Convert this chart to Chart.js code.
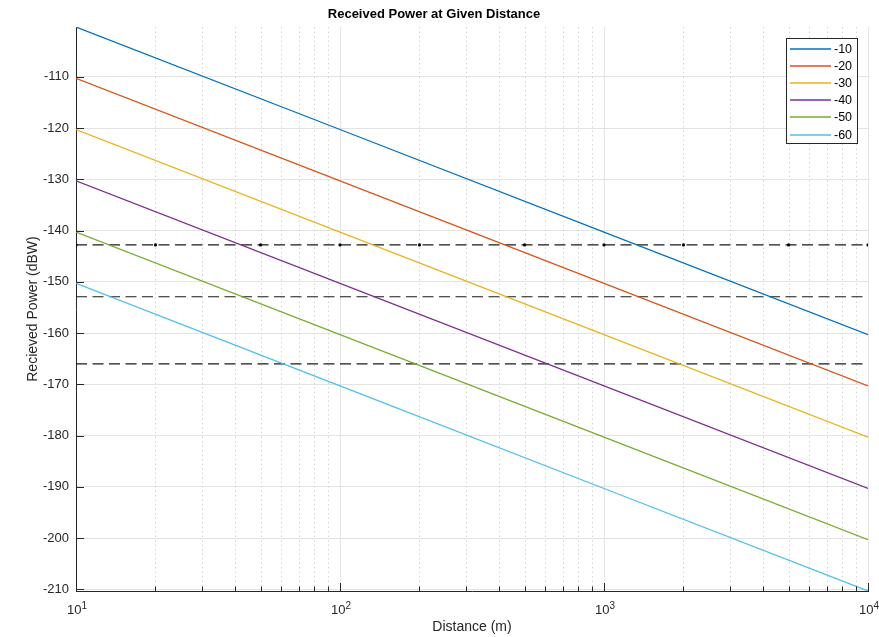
<!DOCTYPE html>
<html>
<head>
<meta charset="utf-8">
<script src="https://cdn.jsdelivr.net/npm/chart.js@4"></script>
<style>
  html, body { margin: 0; padding: 0; background: #fff; }
  canvas { display: block; }
</style>
</head>
<body>
<canvas id="powerChart" width="879" height="637"></canvas>
<script>
  // distances (m) where values were read
  const distances = [10, 100, 1000, 10000];
  // received power (dBW) for each transmit power label
  const seriesLabels = ['-10', '-20', '-30', '-40', '-50', '-60'];
  const p10 = [-100.3, -120.3, -140.3, -160.3];
  const p20 = [-110.3, -130.3, -150.3, -170.3];
  const p30 = [-120.3, -140.3, -160.3, -180.3];
  const p40 = [-130.3, -150.3, -170.3, -190.3];
  const p50 = [-140.3, -160.3, -180.3, -200.3];
  const p60 = [-150.3, -170.3, -190.3, -210.3];
  // threshold levels (dashed)
  const markDist = [10, 20, 50, 100, 200, 500, 1000, 2000, 5000, 10000];
  const thresh1 = [-142.8, -142.8, -142.8, -142.8, -142.8, -142.8, -142.8, -142.8, -142.8, -142.8];
  const thresh2 = [-152.9, -152.9];
  const thresh3 = [-166, -166];
  const threshDist = [10, 10000];
  // ticks
  const yTicks = [-210, -200, -190, -180, -170, -160, -150, -140, -130, -120, -110];
  const xTicks = [10, 20, 30, 40, 50, 60, 70, 80, 90, 100, 200, 300, 400, 500, 600, 700, 800, 900,
                  1000, 2000, 3000, 4000, 5000, 6000, 7000, 8000, 9000, 10000];
  const xMajor = [10, 100, 1000, 10000];
  const xMajorExp = ['1', '2', '3', '4'];

  const colors = ['#0072BD', '#D95319', '#EDB120', '#7E2F8E', '#77AC30', '#4DBEEE'];
  const allSeries = [p10, p20, p30, p40, p50, p60];

  const pts = (xs, ys) => xs.map((x, i) => ({ x: x, y: ys[i] }));

  const datasets = allSeries.map((s, i) => ({
    label: seriesLabels[i],
    data: pts(distances, s),
    borderColor: colors[i],
    backgroundColor: colors[i],
    borderWidth: 1.2,
    pointRadius: 0,
    fill: false,
    tension: 0
  }));
  const dashStyle = { borderColor: '#1a1a1a', backgroundColor: '#000', borderWidth: 1.1, borderDash: [11, 5.5], fill: false, tension: 0 };
  datasets.push(Object.assign({ label: 'thr1', data: pts(markDist, thresh1), pointRadius: 1.6, pointBorderWidth: 0 }, dashStyle));
  datasets.push(Object.assign({ label: 'thr2', data: pts(threshDist, thresh2), pointRadius: 0 }, dashStyle));
  datasets.push(Object.assign({ label: 'thr3', data: pts(threshDist, thresh3), pointRadius: 0 }, dashStyle));

  const font = '"Liberation Sans", Arial, sans-serif';

  // minor dotted grid, inward ticks, 10^n labels, boxed legend
  const extras = {
    id: 'extras',
    beforeDatasetsDraw(chart) {
      const { ctx, chartArea: a, scales: { x } } = chart;
      ctx.save();
      ctx.strokeStyle = '#d4d4d4';
      ctx.lineWidth = 1;
      ctx.setLineDash([1.5, 3]);
      xTicks.forEach(v => {
        if (xMajor.includes(v)) return;
        const px = Math.round(x.getPixelForValue(v)) + 0.5;
        ctx.beginPath();
        ctx.moveTo(px, a.top);
        ctx.lineTo(px, a.bottom);
        ctx.stroke();
      });
      ctx.restore();
    },
    afterDraw(chart) {
      const { ctx, chartArea: a, scales: { x, y } } = chart;
      ctx.save();
      ctx.strokeStyle = '#262626';
      ctx.lineWidth = 1;
      xTicks.forEach(v => {
        const px = Math.round(x.getPixelForValue(v)) + 0.5;
        const len = xMajor.includes(v) ? 8 : 4.5;
        ctx.beginPath();
        ctx.moveTo(px, a.bottom);
        ctx.lineTo(px, a.bottom - len);
        ctx.stroke();
      });
      yTicks.forEach(v => {
        const py = Math.round(y.getPixelForValue(v)) + 0.5;
        ctx.beginPath();
        ctx.moveTo(a.left, py);
        ctx.lineTo(a.left + 8, py);
        ctx.stroke();
      });

      // decade labels with raised exponent
      ctx.fillStyle = '#262626';
      ctx.textBaseline = 'alphabetic';
      ctx.textAlign = 'left';
      xMajor.forEach((v, i) => {
        const px = x.getPixelForValue(v);
        ctx.font = '13px ' + font;
        const wBase = ctx.measureText('10').width;
        ctx.font = '10px ' + font;
        const wExp = ctx.measureText(xMajorExp[i]).width;
        const x0 = px - (wBase + wExp) / 2 + 1;
        ctx.font = '13px ' + font;
        ctx.fillText('10', x0, a.bottom + 23);
        ctx.font = '10px ' + font;
        ctx.fillText(xMajorExp[i], x0 + wBase, a.bottom + 18);
      });

      // legend box
      const bx = 786.5, by = 38.5, bw = 71, bh = 105;
      ctx.fillStyle = '#fff';
      ctx.fillRect(bx, by, bw, bh);
      ctx.strokeStyle = '#262626';
      ctx.lineWidth = 1;
      ctx.strokeRect(bx, by, bw, bh);
      ctx.font = '12.5px ' + font;
      ctx.textBaseline = 'middle';
      ctx.textAlign = 'left';
      seriesLabels.forEach((lab, i) => {
        const ly = Math.round(49 + i * 17.1);
        ctx.strokeStyle = colors[i];
        ctx.lineWidth = 1.5;
        ctx.beginPath();
        ctx.moveTo(790, ly);
        ctx.lineTo(831, ly);
        ctx.stroke();
        ctx.fillStyle = '#000';
        ctx.fillText(lab, 834, ly + 1);
      });
      ctx.restore();
    }
  };

  new Chart(document.getElementById('powerChart'), {
    type: 'line',
    data: { datasets: datasets },
    options: {
      responsive: false,
      animation: false,
      maintainAspectRatio: false,
      devicePixelRatio: 1,
      layout: { padding: { left: 0, right: 11, top: 0, bottom: 0 } },
      plugins: {
        legend: { display: false },
        tooltip: { enabled: false },
        title: {
          display: true,
          text: 'Received Power at Given Distance',
          color: '#000',
          font: { family: font, size: 13, weight: 'bold' },
          padding: { top: 7, bottom: 4.4 }
        }
      },
      scales: {
        x: {
          type: 'logarithmic',
          min: 10,
          max: 10000,
          afterBuildTicks: s => { s.ticks = xTicks.map(v => ({ value: v })); },
          afterFit: s => { s.height = 46; s.paddingLeft = 0; s.paddingRight = 0; },
          ticks: {
            autoSkip: false,
            maxRotation: 0,
            padding: 10,
            font: { family: font, size: 13 },
            callback: () => ''
          },
          grid: {
            drawTicks: false,
            color: c => (xMajor.includes(c.tick && c.tick.value) ? '#e3e3e3' : 'rgba(0,0,0,0)')
          },
          border: { display: true, color: '#262626', width: 1 },
          title: {
            display: true,
            text: 'Distance (m)',
            color: '#262626',
            font: { family: font, size: 14 },
            padding: { top: 0, bottom: 1 }
          }
        },
        y: {
          min: -210.3,
          max: -100.3,
          afterBuildTicks: s => { s.ticks = yTicks.map(v => ({ value: v })); },
          afterFit: s => { s.width = 76; s.paddingTop = 0; s.paddingBottom = 0; },
          ticks: {
            autoSkip: false,
            padding: 7,
            color: '#262626',
            font: { family: font, size: 13 }
          },
          grid: { drawTicks: false, color: '#e3e3e3' },
          border: { display: true, color: '#262626', width: 1 },
          title: {
            display: true,
            text: 'Recieved Power (dBW)',
            color: '#262626',
            font: { family: font, size: 14 },
            padding: { top: 24.6, bottom: 0 }
          }
        }
      }
    },
    plugins: [extras]
  });
</script>
</body>
</html>
